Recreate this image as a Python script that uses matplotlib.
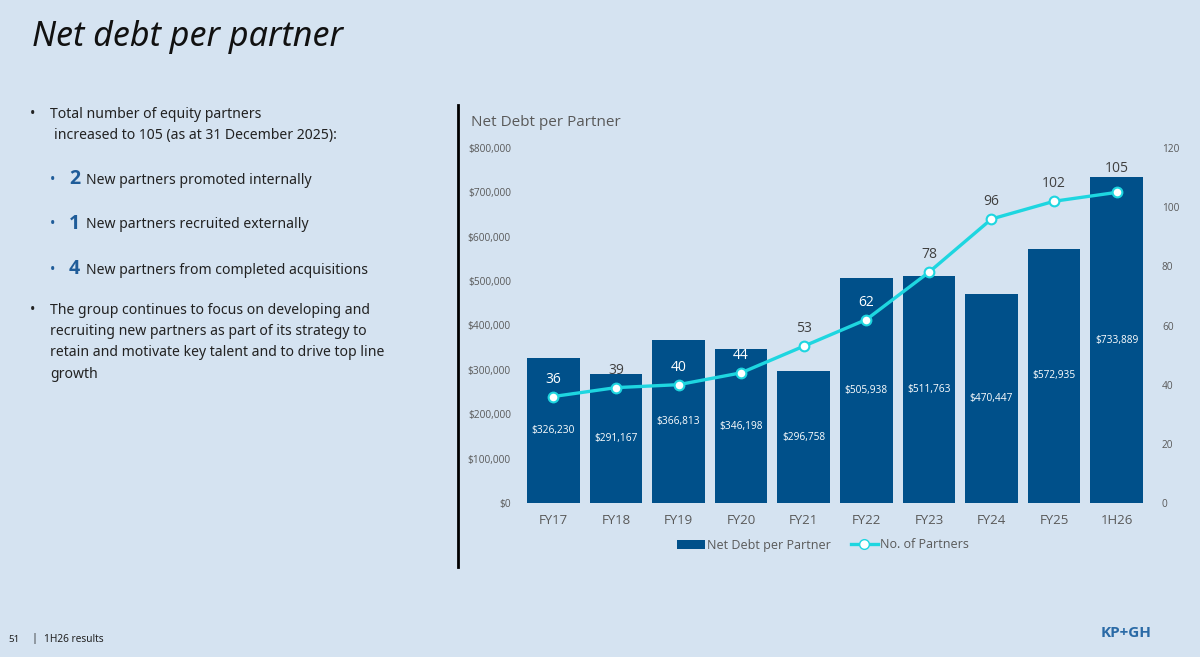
import numpy as np
import matplotlib
matplotlib.use("Agg")
import matplotlib.pyplot as plt
from matplotlib.ticker import FuncFormatter
from matplotlib.lines import Line2D
from matplotlib.patches import Patch

# data
periods = ["FY17", "FY18", "FY19", "FY20", "FY21", "FY22", "FY23", "FY24", "FY25", "1H26"]
net_debt = [326230, 291167, 366813, 346198, 296758, 505938, 511763, 470447, 572935, 733889]
partners = [36, 39, 40, 44, 53, 62, 78, 96, 102, 105]
# partner labels that sit on top of a bar are drawn white
label_on_bar = [True, False, True, True, False, True, False, False, False, False]

bg = "#d5e3f1"
bar_col = "#00508a"
line_col = "#1ed6e0"
grey = "#595959"
chart_font = "Open Sans"
text_font = "Noto Sans"

fig = plt.figure(figsize=(12, 6.57), dpi=100)
fig.patch.set_facecolor(bg)

def fy(py):
    return 1 - py / 657.0

# slide title and text
fig.text(32 / 1200, fy(37), "Net debt per partner", fontsize=24.5, style="italic",
         family=text_font, va="center", ha="left", color="#111111")

fs = 10.1
fig.text(30 / 1200, fy(115), "•", fontsize=fs, family=text_font, va="center", color="#222222")
fig.text(50 / 1200, fy(115), "Total number of equity partners", fontsize=fs,
         family=text_font, va="center", color="#222222")
fig.text(54 / 1200, fy(136), "increased to 105 (as at 31 December 2025):", fontsize=fs,
         family=text_font, va="center", color="#222222")

subs = [("2", "New partners promoted internally", 180),
        ("1", "New partners recruited externally", 225),
        ("4", "New partners from completed acquisitions", 270)]
for num, txt, py in subs:
    fig.text(50 / 1200, fy(py), "•", fontsize=fs, family=text_font, va="center", color="#1f5c99")
    fig.text(69 / 1200, fy(py - 1), num, fontsize=14, weight="bold", family="Open Sans",
             va="center", color="#1f5c99")
    fig.text(86 / 1200, fy(py), txt, fontsize=fs, family=text_font, va="center", color="#222222")

fig.text(30 / 1200, fy(310), "•", fontsize=fs, family=text_font, va="center", color="#222222")
para = ["The group continues to focus on developing and",
        "recruiting new partners as part of its strategy to",
        "retain and motivate key talent and to drive top line",
        "growth"]
for i, line in enumerate(para):
    fig.text(50 / 1200, fy(310 + 21.5 * i), line, fontsize=fs, family=text_font,
             va="center", color="#222222")

# footer
fig.text(8 / 1200, fy(640), "51", fontsize=7, family=text_font, va="center", color="#222222")
fig.text(31 / 1200, fy(639), "|", fontsize=8, family=text_font, va="center", color="#222222")
fig.text(44 / 1200, fy(640), "1H26 results", fontsize=7.3, family=text_font, va="center", color="#222222")
fig.text(1152 / 1200, fy(633), "KP+GH", fontsize=11, weight="bold", family="Open Sans",
         va="center", ha="right", color="#2a6aa6")

# divider line
fig.add_artist(Line2D([458 / 1200, 458 / 1200], [fy(105), fy(567)], color="black", lw=2))

# chart
ax = fig.add_axes([522 / 1200, fy(503), 626 / 1200, 355 / 657])
ax.set_facecolor("none")
x = np.arange(len(periods))
bars = ax.bar(x, net_debt, width=0.84, color=bar_col, zorder=2)
ax.set_ylim(0, 800000)
ax.set_xlim(-0.5, len(periods) - 0.5)
ax.set_yticks(np.arange(0, 800001, 100000))
ax.yaxis.set_major_formatter(FuncFormatter(lambda v, p: "${:,.0f}".format(v)))
ax.set_xticks(x)
ax.set_xticklabels(periods)
ax.tick_params(axis="y", length=0, pad=8, labelsize=7.3, labelcolor=grey)
ax.tick_params(axis="x", length=0, pad=8, labelsize=9.5, labelcolor=grey)
for lab in ax.get_xticklabels() + ax.get_yticklabels():
    lab.set_family(chart_font)
for s in ax.spines.values():
    s.set_visible(False)

for xi, v in zip(x, net_debt):
    ax.text(xi, v / 2, "${:,.0f}".format(v), ha="center", va="center", color="white",
            fontsize=7.3, family=chart_font, zorder=3)

ax2 = ax.twinx()
ax2.set_ylim(0, 120)
ax2.set_yticks(np.arange(0, 121, 20))
ax2.tick_params(axis="y", length=0, pad=10, labelsize=7.3, labelcolor=grey)
for lab in ax2.get_yticklabels():
    lab.set_family(chart_font)
for s in ax2.spines.values():
    s.set_visible(False)
ax2.plot(x, partners, color=line_col, lw=2.4, marker="o", markersize=7,
         markerfacecolor="white", markeredgecolor=line_col, markeredgewidth=1.5, zorder=4)
for i, (xi, v, on) in enumerate(zip(x, partners, label_on_bar)):
    lift = 8.0 if i == len(partners) - 1 else 5.9  # last label clears its bar
    ax2.text(xi, v + lift, str(v), ha="center", va="center", fontsize=10,
             family=chart_font, color="white" if on else "#404040")

fig.text(471 / 1200, fy(122), "Net Debt per Partner", fontsize=11, family=chart_font,
         va="center", ha="left", color=grey)

handles = [Patch(facecolor=bar_col, label="Net Debt per Partner"),
           Line2D([], [], color=line_col, lw=2.4, marker="o", markersize=7,
                  markerfacecolor="white", markeredgecolor=line_col, label="No. of Partners")]
leg = fig.legend(handles=handles, loc="center", bbox_to_anchor=(823 / 1200, fy(545)), ncol=2,
                 frameon=False, handlelength=2.2, handletextpad=0.15,
                 columnspacing=1.6, prop={"family": chart_font, "size": 9})
for t in leg.get_texts():
    t.set_color(grey)

fig.savefig("out.png", dpi=100, facecolor=bg)
